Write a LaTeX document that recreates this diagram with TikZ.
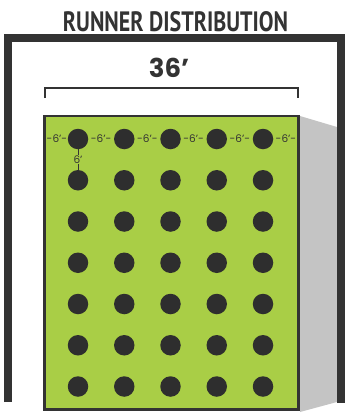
\documentclass[tikz,border=0pt]{standalone}
\usepackage{fontspec}
\usepackage{graphicx}
\usetikzlibrary{calc}
\newfontfamily\titlefont{PT Sans}
\newfontfamily\numfont{Poppins}
\definecolor{framec}{HTML}{333333}
\definecolor{dotc}{HTML}{2E2E2E}
\definecolor{turf}{HTML}{A9CE46}
\definecolor{shadowc}{HTML}{C4C4C4}
\begin{document}
\begin{tikzpicture}[x=1pt,y=-1pt,
  dot/.style={circle,fill=dotc,inner sep=0pt,minimum size=20.5pt},
  lab/.style={font=\numfont\fontsize{10.5}{10.5}\selectfont,text=framec,inner sep=0.5pt},
  tick/.style={draw=framec,line width=1pt}]
\useasboundingbox (0,0) rectangle (345,413);
% shadow
\fill[shadowc] (300,116) -- (337,127) -- (337,402) -- (300,412) -- cycle;
% outer frame
\draw[framec,line width=8pt] (8,402) -- (8,38) -- (341,38) -- (341,403);
% turf
\draw[framec,line width=2.5pt,fill=turf] (44.5,116) rectangle (298.5,409.5);
% title
\node[inner sep=0pt,text=framec] (title) at (175.5,22) {\resizebox{225pt}{20pt}{\titlefont\bfseries RUNNER DISTRIBUTION}};
% dimension
\node[inner sep=0pt,text=framec] (dim) at (169,68) {\numfont\bfseries\fontsize{26}{26}\selectfont 36’};
\coordinate (bl) at (45,98);
\coordinate (br) at (298,98);
\draw[framec,line width=2.8pt] (bl) -- (45,88) -- (298,88) -- (br);
% dots
\foreach \r in {1,...,7}
  \foreach \c in {1,...,5}
    \node[dot] (d-\r-\c) at ({78+46.25*(\c-1)},{139+41.25*(\r-1)}) {};
% spacing labels
\node[lab] (h0) at (57,139) {-6’-};
\node[lab] (h1) at ($(d-1-1)!0.5!(d-1-2)$) {-6’-};
\node[lab] (h2) at ($(d-1-2)!0.5!(d-1-3)$) {-6’-};
\node[lab] (h3) at ($(d-1-3)!0.5!(d-1-4)$) {-6’-};
\node[lab] (h4) at ($(d-1-4)!0.5!(d-1-5)$) {-6’-};
\node[lab] (h5) at (286,139) {-6’-};
\node[lab] (v) at ($(d-1-1)!0.5!(d-2-1)$) {6’};
\draw[tick] (d-1-1) -- (v);
\draw[tick] (v) -- (d-2-1);
\end{tikzpicture}
\end{document}
